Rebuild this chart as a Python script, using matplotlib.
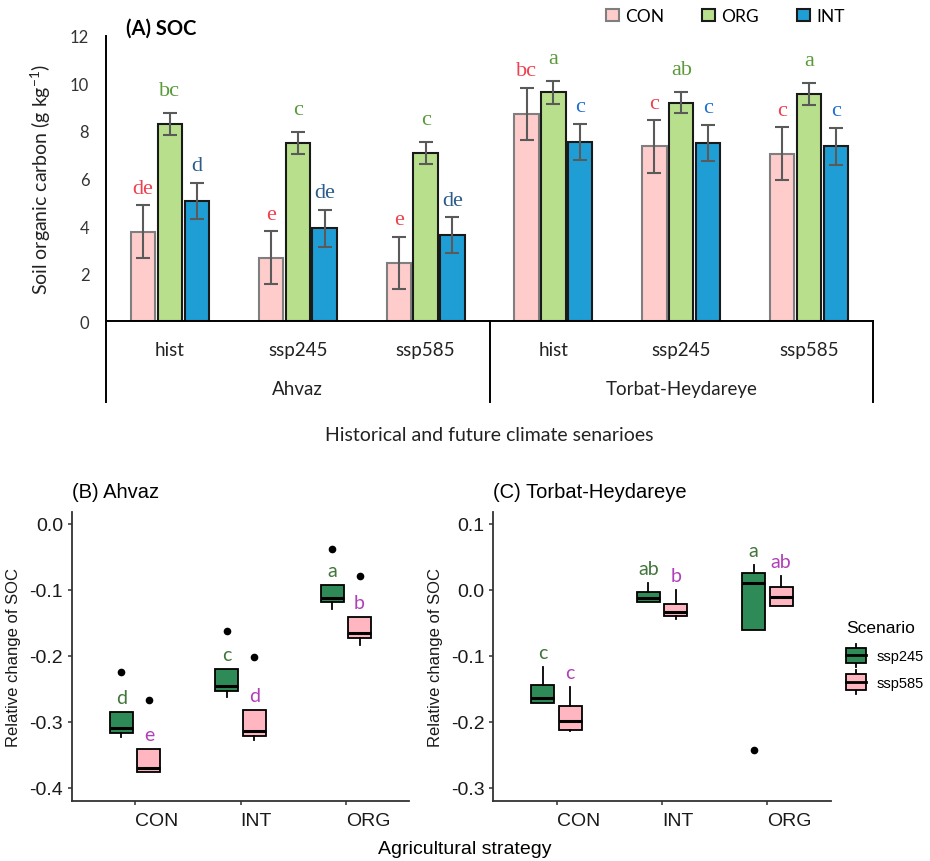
import numpy as np
import matplotlib
matplotlib.use('Agg')
import matplotlib.pyplot as plt
from matplotlib.patches import Patch, Rectangle
from matplotlib.lines import Line2D
from matplotlib.legend_handler import HandlerBase

plt.rcParams['font.family'] = ['Liberation Sans', 'DejaVu Sans']
plt.rcParams['axes.unicode_minus'] = False
plt.rcParams['mathtext.fontset'] = 'custom'
plt.rcParams['mathtext.rm'] = 'Lato'

# ---------------- panel A: SOC bars ----------------
sites = ['Ahvaz', 'Torbat-Heydareye']
scenarios = ['hist', 'ssp245', 'ssp585']
strategies = ['CON', 'ORG', 'INT']

soc_con = [3.77, 2.68, 2.44, 8.72, 7.35, 7.05]
soc_org = [8.30, 7.50, 7.08, 9.62, 9.19, 9.55]
soc_int = [5.06, 3.91, 3.62, 7.53, 7.49, 7.35]
err_con = [1.10, 1.10, 1.10, 1.10, 1.10, 1.10]
err_org = [0.46, 0.46, 0.45, 0.49, 0.44, 0.46]
err_int = [0.77, 0.77, 0.75, 0.77, 0.77, 0.77]
let_con = ['de', 'e', 'e', 'bc', 'c', 'c']
let_org = ['bc', 'c', 'c', 'a', 'ab', 'a']
let_int = ['d', 'de', 'de', 'c', 'c', 'c']

# ---------------- panels B/C: relative change boxes ----------------
box_cats = ['CON', 'INT', 'ORG']
box_scen = ['ssp245', 'ssp585']

ahv_245_q1 = [-0.317, -0.254, -0.118]
ahv_245_med = [-0.309, -0.246, -0.112]
ahv_245_q3 = [-0.285, -0.220, -0.092]
ahv_245_lo = [-0.324, -0.262, -0.129]
ahv_245_hi = [-0.285, -0.220, -0.092]
ahv_245_out = [[-0.225], [-0.162], [-0.038]]
ahv_585_q1 = [-0.376, -0.322, -0.173]
ahv_585_med = [-0.371, -0.314, -0.166]
ahv_585_q3 = [-0.342, -0.283, -0.142]
ahv_585_lo = [-0.376, -0.328, -0.184]
ahv_585_hi = [-0.342, -0.283, -0.142]
ahv_585_out = [[-0.267], [-0.202], [-0.079]]
ahv_let_245 = ['d', 'c', 'a']
ahv_let_585 = ['e', 'd', 'b']

tor_245_q1 = [-0.172, -0.018, -0.061]
tor_245_med = [-0.164, -0.013, 0.011]
tor_245_q3 = [-0.145, -0.003, 0.025]
tor_245_lo = [-0.172, -0.018, -0.061]
tor_245_hi = [-0.117, 0.011, 0.037]
tor_245_out = [[], [], [-0.243]]
tor_585_q1 = [-0.213, -0.040, -0.024]
tor_585_med = [-0.199, -0.034, -0.011]
tor_585_q3 = [-0.177, -0.021, 0.004]
tor_585_lo = [-0.215, -0.044, -0.025]
tor_585_hi = [-0.148, 0.000, 0.021]
tor_585_out = [[], [], []]
tor_let_245 = ['c', 'ab', 'a']
tor_let_585 = ['c', 'b', 'ab']

W, H = 930, 862


def fbox(left, top, right, bottom):
    # pixel box -> figure fraction rect
    return [left / W, 1 - bottom / H, (right - left) / W, (bottom - top) / H]


fig = plt.figure(figsize=(9.3, 8.62), dpi=100)

# ================= (A) =================
axA = fig.add_axes(fbox(106, 36.7, 873, 322.3))
x = np.arange(len(soc_con))
offs = [-0.21, 0, 0.21]
bar_fc = ['#FFCCCC', '#B8E08C', '#1F9ED6']
bar_ec = ['#7f7f7f', '#1a1a1a', '#1a1a1a']
vals_all = [soc_con, soc_org, soc_int]
errs_all = [err_con, err_org, err_int]
lets_all = [let_con, let_org, let_int]
let_cols = [['#F0414F'] * 6, ['#5A9A3A'] * 6, ['#2B5C8A'] * 3 + ['#1F6FD0'] * 3]
let_pad = [0.72, 0.95, 0.72]

for k in range(3):
    axA.bar(x + offs[k], vals_all[k], width=0.19, color=bar_fc[k],
            edgecolor=bar_ec[k], linewidth=1.5, label=strategies[k], zorder=2)
    axA.errorbar(x + offs[k], vals_all[k], yerr=errs_all[k], fmt='none',
                 ecolor='#5a5a5a', elinewidth=1.5, capsize=5, capthick=1.5, zorder=3)
    for i in range(len(x)):
        axA.text(x[i] + offs[k], vals_all[k][i] + errs_all[k][i] + let_pad[k],
                 lets_all[k][i], ha='center', va='center', fontsize=16,
                 family='Liberation Serif', color=let_cols[k][i])

axA.set_xlim(-0.5, 5.5)
axA.set_ylim(0, 12)
axA.set_yticks(range(0, 13, 2))
axA.set_xticks([])
axA.tick_params(axis='y', length=0, pad=12, labelsize=12, labelcolor='#333333')
for t in axA.get_yticklabels():
    t.set_family('Lato')
for s in ['top', 'right']:
    axA.spines[s].set_visible(False)
for s in ['left', 'bottom']:
    axA.spines[s].set_linewidth(1.4)
    axA.spines[s].set_color('black')
axA.set_ylabel(r'Soil organic carbon (g kg$^{\mathregular{-1}}$)', family='Lato',
               fontsize=14, color='#222222', labelpad=12)

# group labels under the axis
trans = axA.get_xaxis_transform()
for xv in [-0.5, 2.5, 5.5]:
    axA.plot([xv, xv], [0, -0.2815], transform=trans, clip_on=False,
             color='black', lw=1.4)
for i in range(len(x)):
    axA.text(x[i], -0.097, scenarios[i % 3], transform=trans, ha='center',
             va='center', family='Lato', fontsize=13.5, color='#222222')
for j, site in enumerate(sites):
    axA.text(3 * j + 1, -0.237, site, transform=trans, ha='center', va='center',
             family='Lato', fontsize=13.5, color='#222222')
axA.text(2.5, -0.395, 'Historical and future climate senarioes', transform=trans,
         ha='center', va='center', family='Lato', fontsize=14, color='#222222')

fig.text(126 / W, 1 - 29 / H, '(A) SOC', ha='left', va='center', family='Lato',
         fontweight='bold', fontsize=14.5)

leg_handles = [Patch(facecolor=bar_fc[k], edgecolor=bar_ec[k], linewidth=1.5)
               for k in range(3)]
fig.legend(leg_handles, strategies, loc='center left',
           bbox_to_anchor=(606 / W, 1 - 17 / H), ncol=3, frameon=False,
           handlelength=0.75, handleheight=0.75, handletextpad=0.35,
           columnspacing=2.2, borderaxespad=0, borderpad=0,
           prop={'family': 'Lato', 'size': 12.5})

# ================= (B) and (C) =================
green = '#2E8B57'
pink = '#FFB6C1'
let_green = '#41753A'
let_purple = '#B040B8'


def make_stats(q1, med, q3, lo, hi, out):
    return [dict(q1=q1[i], med=med[i], q3=q3[i], whislo=lo[i], whishi=hi[i],
                 fliers=np.array(out[i])) for i in range(len(q1))]


def draw_panel(ax, st245, st585, l245, l585, ylim, yticks):
    pos0 = np.arange(1, len(box_cats) + 1)
    for stats, off, fc, lets, lc in [(st245, -0.13, green, l245, let_green),
                                     (st585, 0.13, pink, l585, let_purple)]:
        pos = pos0 + off
        ax.bxp(stats, positions=pos, widths=0.22, patch_artist=True,
               showcaps=False, manage_ticks=False,
               boxprops=dict(facecolor=fc, edgecolor='black', linewidth=1.3),
               medianprops=dict(color='black', linewidth=2.2),
               whiskerprops=dict(color='black', linewidth=1.3),
               flierprops=dict(marker='o', markerfacecolor='black',
                               markeredgecolor='black', markersize=4.5))
        for p, st, l in zip(pos, stats, lets):
            ax.text(p, st['whishi'] + 0.022, l, ha='center', va='center',
                    color=lc, family='Lato', fontsize=14)
    ax.set_xlim(0.4, 3.6)
    ax.set_ylim(*ylim)
    ax.set_yticks(yticks)
    ax.set_yticklabels(['%.1f' % v for v in yticks])
    ax.set_xticks(pos0)
    ax.set_xticklabels(box_cats, ha='left')
    ax.tick_params(axis='both', length=3, width=1.1, color='#333333',
                   labelsize=14, labelcolor='#1a1a1a')
    ax.tick_params(axis='x', pad=5)
    ax.tick_params(axis='y', pad=3.5)
    for s in ['top', 'right']:
        ax.spines[s].set_visible(False)
    for s in ['left', 'bottom']:
        ax.spines[s].set_linewidth(1.3)
        ax.spines[s].set_color('#333333')
    ax.set_ylabel('Relative change of SOC', fontsize=12, color='#1a1a1a')


axB = fig.add_axes(fbox(72, 513, 409, 801.7))
draw_panel(axB,
           make_stats(ahv_245_q1, ahv_245_med, ahv_245_q3, ahv_245_lo, ahv_245_hi, ahv_245_out),
           make_stats(ahv_585_q1, ahv_585_med, ahv_585_q3, ahv_585_lo, ahv_585_hi, ahv_585_out),
           ahv_let_245, ahv_let_585, (-0.42, 0.018), [-0.4, -0.3, -0.2, -0.1, 0.0])
axB.yaxis.set_label_coords(-0.151, 0.5)

axC = fig.add_axes(fbox(493.3, 513, 830.7, 801.7))
draw_panel(axC,
           make_stats(tor_245_q1, tor_245_med, tor_245_q3, tor_245_lo, tor_245_hi, tor_245_out),
           make_stats(tor_585_q1, tor_585_med, tor_585_q3, tor_585_lo, tor_585_hi, tor_585_out),
           tor_let_245, tor_let_585, (-0.32, 0.118), [-0.3, -0.2, -0.1, 0.0, 0.1])
axC.yaxis.set_label_coords(-0.149, 0.5)

fig.text(72 / W, 1 - 493 / H, '(B) Ahvaz', ha='left', va='center', fontsize=14.5)
fig.text(493.3 / W, 1 - 493 / H, '(C) Torbat-Heydareye', ha='left', va='center',
         fontsize=14.5)
fig.text(465 / W, 1 - 850 / H, 'Agricultural strategy', ha='center', va='center',
         fontsize=14)


class BoxKey(HandlerBase):
    def create_artists(self, legend, orig_handle, xdescent, ydescent, width,
                       height, fontsize, trans):
        x0, y0 = -xdescent, -ydescent
        cx = x0 + width / 2
        fc = orig_handle.get_facecolor()
        lo = Line2D([cx, cx], [y0 - 0.25 * height, y0], color='black', lw=1.3,
                    transform=trans)
        hi = Line2D([cx, cx], [y0 + height, y0 + 1.25 * height], color='black',
                    lw=1.3, transform=trans)
        box = Rectangle((x0, y0), width, height, facecolor=fc, edgecolor='black',
                        lw=1.3, transform=trans)
        med = Line2D([x0, x0 + width], [y0 + height / 2] * 2, color='black',
                     lw=2, transform=trans)
        return [lo, hi, box, med]


scen_handles = [Patch(facecolor=green), Patch(facecolor=pink)]
legC = fig.legend(scen_handles, box_scen, loc='upper left',
                  bbox_to_anchor=(846 / W, 1 - 621 / H), frameon=False,
                  title='Scenario', title_fontsize=12.5, fontsize=10.5,
                  handler_map={Patch: BoxKey()}, handlelength=1.4,
                  handleheight=1.3, handletextpad=0.7, labelspacing=0.75,
                  borderaxespad=0, borderpad=0, alignment='left')
legC._legend_box.sep = 9

fig.savefig('out.png', dpi=100)
